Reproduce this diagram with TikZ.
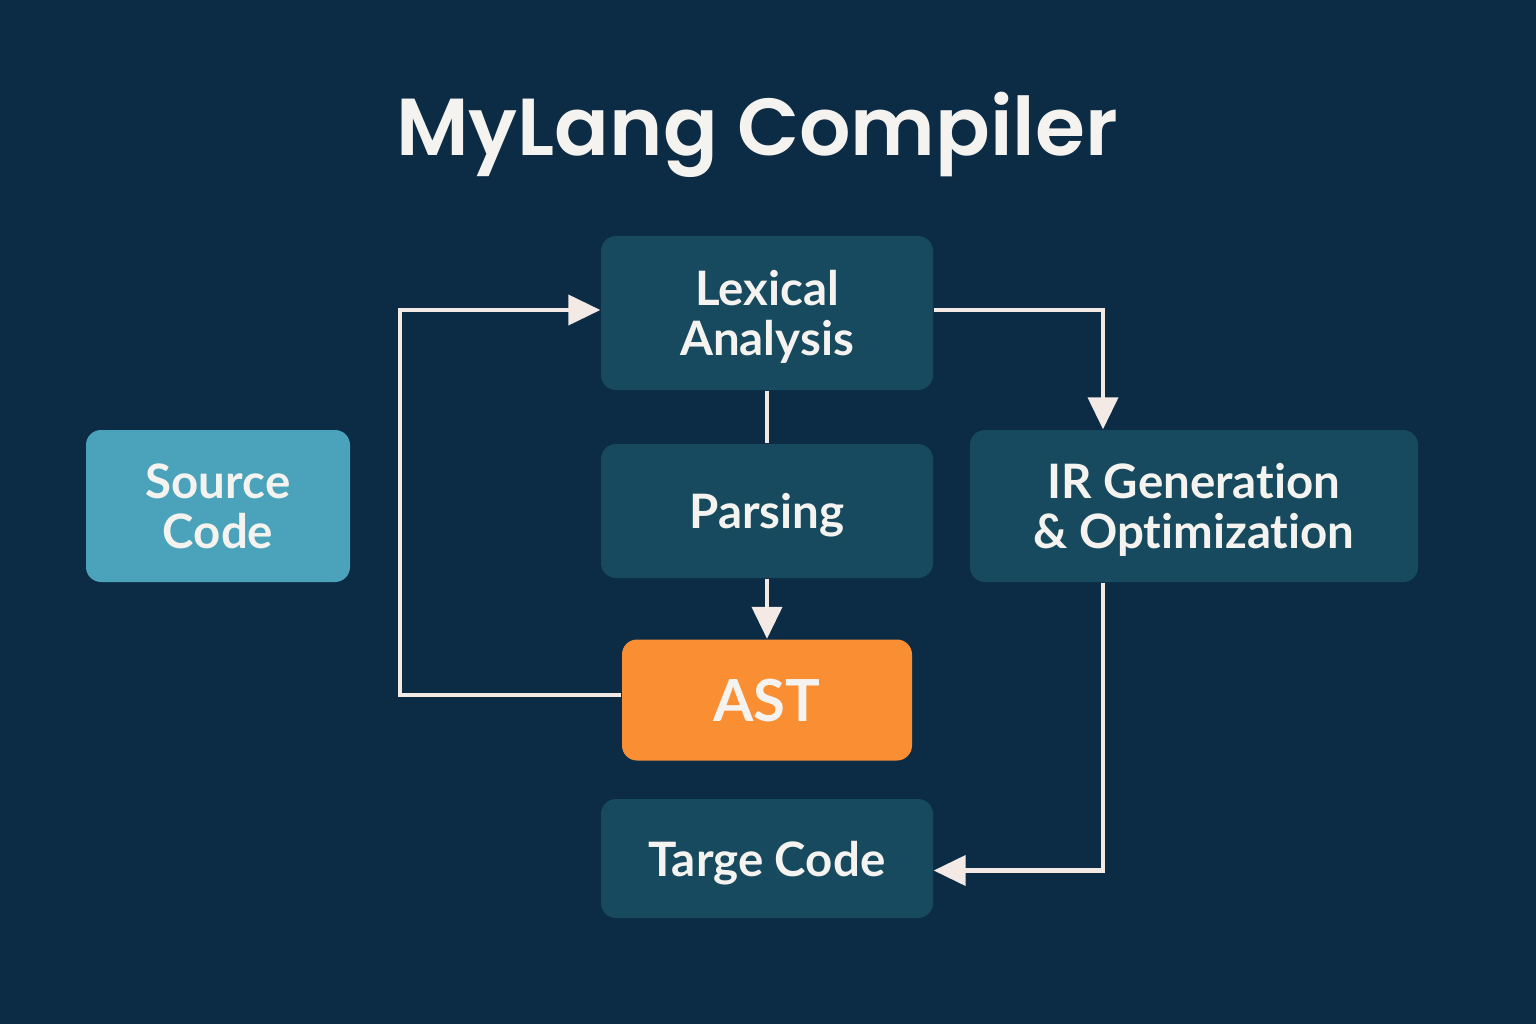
\documentclass[tikz,border=0pt]{standalone}
\usepackage{fontspec}
\setmainfont{Lato}[Ligatures=NoCommon]
\newfontfamily\titlefont{Poppins}[BoldFont={Poppins SemiBold}]
\usetikzlibrary{arrows.meta,positioning}

\definecolor{bgnavy}{HTML}{0C2C45}
\definecolor{boxteal}{HTML}{174A5E}
\definecolor{srcblue}{HTML}{4AA3BA}
\definecolor{astorange}{HTML}{FA8E33}
\definecolor{linewhite}{HTML}{F3EAE5}
\definecolor{txtwhite}{HTML}{F4F3EF}

\tikzset{
	stage/.style={fill=boxteal, rounded corners=0.15cm, text=txtwhite, align=center,
		font=\fontsize{13.5}{14.2}\selectfont\bfseries, inner sep=0pt, text depth=0pt},
	flow/.style={draw=linewhite, line width=1.15pt},
	arr/.style={flow, -{Triangle[width=0.3cm, length=0.32cm]}},
}

\begin{document}
\begin{tikzpicture}
	\fill[bgnavy] (0,0) rectangle (15.36,10.24);
	
	\node[text=txtwhite, font=\titlefont\fontsize{23}{26}\selectfont\bfseries] (title) at (7.57,8.89) {MyLang Compiler};
	
	\node[stage, minimum width=3.32cm, minimum height=1.54cm] (lex) at (7.67,7.11) {Lexical\\Analysis};
	\node[stage, minimum width=3.32cm, minimum height=1.34cm] (parse) at (7.67,5.13) {Parsing};
	\node[stage, fill=astorange, minimum width=2.90cm, minimum height=1.21cm, font=\fontsize{16.5}{18}\selectfont\bfseries] (ast) at (7.67,3.24) {AST};
	\node[stage, minimum width=3.32cm, minimum height=1.19cm] (target) at (7.67,1.655) {Targe Code};
	\node[stage, fill=srcblue, minimum width=2.64cm, minimum height=1.52cm] (source) at (2.18,5.18) {Source\\Code};
	\node[stage, minimum width=4.48cm, minimum height=1.52cm] (ir) at (11.94,5.18) {IR Generation\\\& Optimization};
	
	\coordinate (loopL) at (4.00,3.29);
	\coordinate (turnR) at (11.03,7.14);
	
	\draw[flow] (lex.south) -- (parse.north);
	\draw[arr] (parse.south) -- (ast.north);
	\draw[arr] (ast.west |- loopL) -- (loopL) |- ([yshift=0.03cm]lex.west);
	\draw[arr] ([yshift=0.03cm]lex.east) -| (ir.north -| turnR);
	\draw[arr] (ir.south -| turnR) |- ([yshift=-0.12cm]target.east);
\end{tikzpicture}
\end{document}
